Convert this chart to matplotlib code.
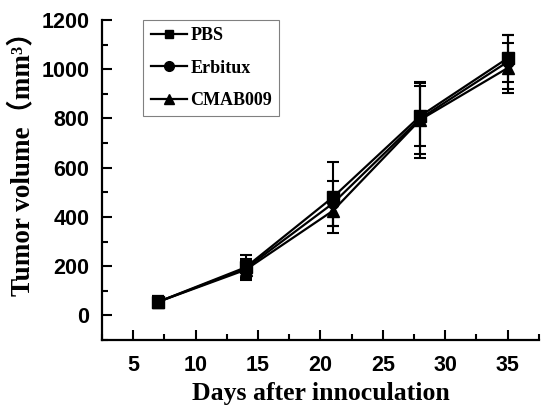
import matplotlib
matplotlib.use('Agg')
import matplotlib.pyplot as plt
from matplotlib.ticker import MultipleLocator

# data
days = [7, 14, 21, 28, 35]
groups = ['PBS', 'Erbitux', 'CMAB009']
markers = ['s', 'o', '^']
pbs_mean = [55, 195, 480, 810, 1045]
pbs_err = [22, 50, 145, 120, 95]
erb_mean = [55, 190, 455, 800, 1030]
erb_err = [22, 40, 90, 145, 110]
cmab_mean = [55, 185, 425, 795, 1005]
cmab_err = [22, 35, 60, 155, 100]
y_ticks = [0, 200, 400, 600, 800, 1000, 1200]
x_ticks = [5, 10, 15, 20, 25, 30, 35]

means = [pbs_mean, erb_mean, cmab_mean]
errs = [pbs_err, erb_err, cmab_err]
legend_msize = [6, 7, 7]

fig = plt.figure(figsize=(5.41, 4.05), dpi=100)
ax = fig.add_axes([0.1885, 0.1605, 0.8075, 0.79])

for name, m, mu, er, ms in zip(groups, markers, means, errs, legend_msize):
    ax.errorbar(days, mu, yerr=er, color='black', marker=m, markersize=8,
                linewidth=1.6, elinewidth=1.5, capsize=4, capthick=1.5)
    # legend handle: line + marker only
    ax.plot([], [], color='black', marker=m, markersize=ms, linewidth=1.6,
            label=name)

ax.set_xlim(2.5, 37.5)
ax.set_ylim(-100, 1200)
ax.set_xticks(x_ticks)
ax.set_yticks(y_ticks)
ax.xaxis.set_minor_locator(MultipleLocator(2.5))
ax.yaxis.set_minor_locator(MultipleLocator(100))

for side in ['top', 'right']:
    ax.spines[side].set_visible(False)
for side in ['left', 'bottom']:
    ax.spines[side].set_linewidth(1.6)

ax.tick_params(which='major', direction='in', length=7, width=1.5)
ax.tick_params(axis='y', which='major', pad=9)
ax.tick_params(axis='x', which='major', pad=11)
ax.tick_params(which='minor', direction='in', length=4, width=1.5)
for lab in ax.get_xticklabels() + ax.get_yticklabels():
    lab.set_fontfamily('Liberation Sans')
    lab.set_fontweight('bold')
    lab.set_fontsize(15.5)

serif = ['Liberation Serif', 'Noto Sans CJK SC']
ax.set_xlabel('Days after innoculation', family=serif, fontweight='bold',
              fontsize=18.5, labelpad=4)
ax.set_ylabel('Tumor volume（mm³）', family=serif, fontweight='bold',
              fontsize=19.5)
ax.yaxis.set_label_coords(-0.153, 0.57)

leg = ax.legend(loc='upper left', bbox_to_anchor=(0.095, 1.0),
                prop={'family': 'Liberation Serif', 'weight': 'bold', 'size': 13},
                fancybox=False, edgecolor='gray', framealpha=1,
                handlelength=2.0, handletextpad=0.2, borderpad=0.4,
                labelspacing=0.85, borderaxespad=0.0)
leg.get_frame().set_linewidth(0.8)

fig.savefig('out.png', dpi=100)
